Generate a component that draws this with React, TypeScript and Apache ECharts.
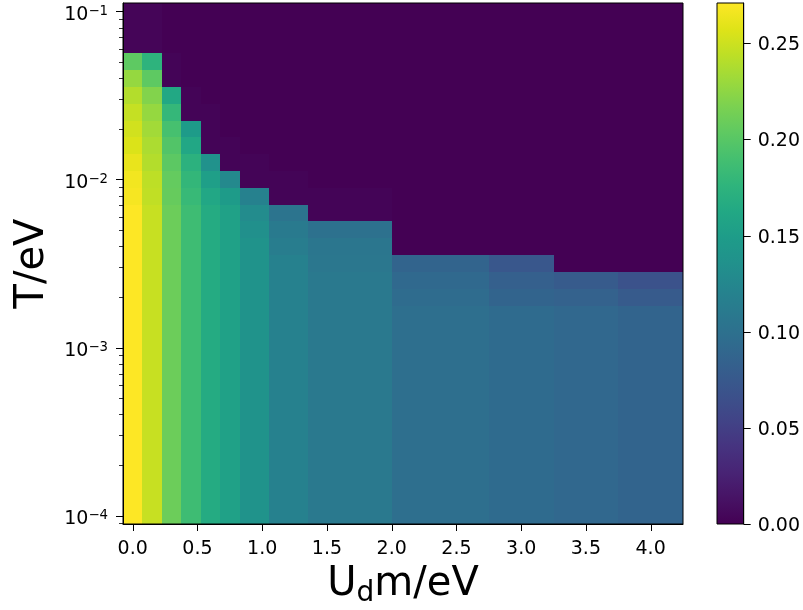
import { useEffect, useRef } from "react";
import * as echarts from "echarts";

// Bin centres of the mesh (pcolormesh-style, edges halfway between centres)
const U_DM = [0, 0.15, 0.3, 0.45, 0.6, 0.75, 0.9, 1.2, 1.5, 2.5, 3.0, 3.5, 4.0];
const T_EV = [
  1.0e-4, 1.26e-4, 1.58e-4, 2.0e-4, 2.51e-4, 3.16e-4, 3.98e-4, 5.01e-4, 6.31e-4, 7.94e-4,
  1.0e-3, 1.26e-3, 1.58e-3, 2.0e-3, 2.51e-3, 3.16e-3, 3.98e-3, 5.01e-3, 6.31e-3, 7.94e-3,
  1.0e-2, 1.26e-2, 1.58e-2, 2.0e-2, 2.51e-2, 3.16e-2, 3.98e-2, 5.01e-2, 6.31e-2, 7.94e-2,
  1.0e-1,
];

// One row per temperature (ascending T), one value per U_dm column
const Z = [
  [0.271, 0.248, 0.21, 0.186, 0.166, 0.155, 0.138, 0.119, 0.109, 0.098, 0.094, 0.091, 0.087],
  [0.271, 0.248, 0.21, 0.186, 0.166, 0.155, 0.138, 0.119, 0.109, 0.098, 0.094, 0.091, 0.087],
  [0.271, 0.248, 0.21, 0.186, 0.166, 0.155, 0.138, 0.119, 0.109, 0.098, 0.094, 0.091, 0.087],
  [0.271, 0.248, 0.21, 0.186, 0.166, 0.155, 0.138, 0.119, 0.109, 0.098, 0.094, 0.091, 0.087],
  [0.271, 0.248, 0.21, 0.186, 0.166, 0.155, 0.138, 0.119, 0.109, 0.098, 0.094, 0.091, 0.087],
  [0.271, 0.248, 0.21, 0.186, 0.166, 0.155, 0.138, 0.119, 0.109, 0.098, 0.094, 0.091, 0.087],
  [0.271, 0.248, 0.21, 0.186, 0.166, 0.155, 0.138, 0.119, 0.109, 0.098, 0.094, 0.091, 0.087],
  [0.271, 0.248, 0.21, 0.186, 0.166, 0.155, 0.138, 0.119, 0.109, 0.098, 0.094, 0.091, 0.087],
  [0.271, 0.248, 0.21, 0.186, 0.166, 0.155, 0.138, 0.119, 0.109, 0.098, 0.094, 0.091, 0.087],
  [0.271, 0.248, 0.21, 0.186, 0.166, 0.155, 0.138, 0.119, 0.109, 0.098, 0.094, 0.091, 0.087],
  [0.271, 0.248, 0.21, 0.186, 0.166, 0.155, 0.138, 0.119, 0.109, 0.098, 0.094, 0.091, 0.087],
  [0.271, 0.248, 0.21, 0.186, 0.166, 0.155, 0.138, 0.119, 0.109, 0.098, 0.094, 0.091, 0.087],
  [0.271, 0.248, 0.21, 0.186, 0.166, 0.155, 0.138, 0.119, 0.109, 0.098, 0.094, 0.091, 0.087],
  [0.271, 0.248, 0.21, 0.186, 0.166, 0.155, 0.138, 0.119, 0.109, 0.095, 0.087, 0.084, 0.077],
  [0.271, 0.248, 0.21, 0.186, 0.166, 0.155, 0.138, 0.119, 0.109, 0.092, 0.082, 0.077, 0.068],
  [0.271, 0.248, 0.21, 0.186, 0.166, 0.155, 0.138, 0.119, 0.107, 0.087, 0.073, 0, 0],
  [0.271, 0.248, 0.21, 0.186, 0.166, 0.155, 0.138, 0.114, 0.106, 0, 0, 0, 0],
  [0.271, 0.248, 0.21, 0.186, 0.166, 0.155, 0.134, 0.111, 0.1, 0, 0, 0, 0],
  [0.271, 0.248, 0.21, 0.186, 0.166, 0.155, 0.13, 0.104, 0.002, 0, 0, 0, 0],
  [0.268, 0.245, 0.207, 0.182, 0.161, 0.148, 0.119, 0.002, 0.002, 0, 0, 0, 0],
  [0.266, 0.244, 0.206, 0.179, 0.153, 0.127, 0.002, 0.002, 0, 0, 0, 0, 0],
  [0.262, 0.24, 0.202, 0.173, 0.137, 0.002, 0.002, 0, 0, 0, 0, 0, 0],
  [0.256, 0.237, 0.197, 0.161, 0.002, 0.002, 0, 0, 0, 0, 0, 0, 0],
  [0.252, 0.233, 0.191, 0.148, 0.002, 0, 0, 0, 0, 0, 0, 0, 0],
  [0.247, 0.228, 0.18, 0.002, 0.002, 0, 0, 0, 0, 0, 0, 0, 0],
  [0.24, 0.22, 0.163, 0.002, 0, 0, 0, 0, 0, 0, 0, 0, 0],
  [0.228, 0.203, 0.002, 0, 0, 0, 0, 0, 0, 0, 0, 0, 0],
  [0.203, 0.175, 0.002, 0, 0, 0, 0, 0, 0, 0, 0, 0, 0],
  [0.003, 0.003, 0, 0, 0, 0, 0, 0, 0, 0, 0, 0, 0],
  [0.003, 0.003, 0, 0, 0, 0, 0, 0, 0, 0, 0, 0, 0],
  [0.003, 0.003, 0, 0, 0, 0, 0, 0, 0, 0, 0, 0, 0],
];

const VMIN = 0;
const VMAX = 0.271;

const X_TICKS = [0, 0.5, 1.0, 1.5, 2.0, 2.5, 3.0, 3.5, 4.0];
const Y_MAJOR = [1e-4, 1e-3, 1e-2, 1e-1];
const CBAR_TICKS = [0, 0.05, 0.1, 0.15, 0.2, 0.25];

const VIRIDIS = [
  "#440154", "#471365", "#482475", "#463480", "#414487", "#3b528b", "#355f8d",
  "#2f6c8e", "#2a788e", "#25848e", "#21918c", "#1e9c89", "#22a884", "#2fb47c",
  "#44bf70", "#5ec962", "#7ad151", "#9bd93c", "#bddf26", "#dfe318", "#fde725",
];

const FONT = "DejaVu Sans";
const TICK_FS = 19;
const TITLE_FS = 40;
const MAJOR_LEN = 7;
const MINOR_LEN = 4;

// Cell edges halfway between neighbouring centres (geometric mean on a log axis)
function binEdges(c: number[], log: boolean): number[] {
  const t = log ? c.map((v) => Math.log10(v)) : c.slice();
  const e: number[] = [t[0] - (t[1] - t[0]) / 2];
  for (let i = 0; i < t.length - 1; i++) e.push((t[i] + t[i + 1]) / 2);
  e.push(t[t.length - 1] + (t[t.length - 1] - t[t.length - 2]) / 2);
  return log ? e.map((v) => Math.pow(10, v)) : e;
}

// Minor log ticks (2..9 x 10^k) that fall inside the axis range
function minorLogTicks(lo: number, hi: number): number[] {
  const out: number[] = [];
  for (let k = -6; k <= 1; k++) {
    for (let m = 2; m <= 9; m++) {
      const v = m * Math.pow(10, k);
      if (v >= lo && v <= hi) out.push(v);
    }
  }
  return out;
}

// Outward tick marks drawn through the axes' own scales
function tickSeries(xAxisIndex: number, yAxisIndex: number, points: number[][], dx: number, dy: number, width: number) {
  return {
    type: "custom",
    xAxisIndex,
    yAxisIndex,
    clip: false,
    silent: true,
    z: 20,
    encode: { x: 0, y: 1 },
    data: points,
    renderItem: (_p: any, api: any) => {
      const p = api.coord([api.value(0), api.value(1)]);
      const x = dx === 0 ? Math.round(p[0]) + 0.5 : p[0];
      const y = dy === 0 ? Math.round(p[1]) + 0.5 : p[1];
      return {
        type: "line",
        shape: { x1: x, y1: y, x2: x + dx, y2: y + dy },
        style: { stroke: "#000", lineWidth: width },
      };
    },
  };
}

export default function App() {
  const ref = useRef<HTMLDivElement>(null);

  useEffect(() => {
    const chart = echarts.init(ref.current!, null, { renderer: "svg" });
    const xe = binEdges(U_DM, false);
    const ye = binEdges(T_EV, true);
    const xMin = xe[0];
    const xMax = xe[xe.length - 1];
    const yMin = ye[0];
    const yMax = ye[ye.length - 1];

    const cells: number[][] = [];
    Z.forEach((row, i) => {
      row.forEach((v, j) => {
        cells.push([xe[j], xe[j + 1], ye[i], ye[i + 1], v]);
      });
    });

    const tickLabel = { color: "#000", fontFamily: FONT, fontSize: TICK_FS };
    const axisLine = { show: true, onZero: false, lineStyle: { color: "#000", width: 1 } };

    const option: any = {
      animation: false,
      textStyle: { fontFamily: FONT },
      grid: [
        { left: 123, top: 3, width: 560, height: 521, show: true, borderColor: "#000", borderWidth: 1, backgroundColor: "transparent", z: 5 },
        { left: 717, top: 3, width: 27, height: 521, show: true, borderColor: "#000", borderWidth: 1, backgroundColor: "transparent", z: 5 },
      ],
      visualMap: {
        show: false,
        type: "continuous",
        min: VMIN,
        max: VMAX,
        dimension: 4,
        seriesIndex: 0,
        inRange: { color: VIRIDIS },
      },
      xAxis: [
        {
          type: "value",
          gridIndex: 0,
          z: 10,
          min: xMin,
          max: xMax,
          axisLine,
          axisTick: { show: false },
          axisLabel: { ...tickLabel, margin: 13, customValues: X_TICKS, formatter: (v: number) => v.toFixed(1) },
          splitLine: { show: false },
          name: "{u|U}{d|d}{u|m/eV}",
          nameLocation: "middle",
          nameGap: 33,
          nameTextStyle: {
            color: "#000",
            rich: {
              u: { fontFamily: FONT, fontSize: TITLE_FS, lineHeight: 48, color: "#000" },
              d: { fontFamily: FONT, fontSize: 28, lineHeight: 28, verticalAlign: "bottom", color: "#000" },
            },
          },
        },
        { type: "value", gridIndex: 1, min: 0, max: 1, show: false, axisLine: { onZero: false } },
      ],
      yAxis: [
        {
          type: "log",
          logBase: 10,
          gridIndex: 0,
          z: 10,
          position: "left",
          min: yMin,
          max: yMax,
          axisLine,
          axisTick: { show: false },
          axisLabel: {
            margin: 15,
            customValues: Y_MAJOR,
            formatter: (v: number) => {
              const e = Math.round(Math.log10(v));
              return `{gap| }\n{b|10}{s|${e < 0 ? "\u2212" : ""}${Math.abs(e)}}`;
            },
            rich: {
              gap: { fontSize: 1, lineHeight: 3.4 },
              b: { fontFamily: FONT, fontSize: TICK_FS, lineHeight: 19, verticalAlign: "bottom", color: "#000" },
              s: { fontFamily: FONT, fontSize: 13.3, lineHeight: 13.3, padding: [0, 0, 8.4, 0], verticalAlign: "top", color: "#000" },
            },
          },
          splitLine: { show: false },
          name: "T/eV",
          nameLocation: "middle",
          nameRotate: 90,
          nameGap: 74,
          nameTextStyle: { color: "#000", fontFamily: FONT, fontSize: TITLE_FS },
        },
        {
          type: "value",
          gridIndex: 1,
          z: 10,
          position: "right",
          min: VMIN,
          max: VMAX,
          axisLine,
          axisTick: { show: false },
          axisLabel: { ...tickLabel, margin: 14, customValues: CBAR_TICKS, formatter: (v: number) => v.toFixed(2) },
          splitLine: { show: false },
        },
      ],
      series: [
        {
          type: "custom",
          xAxisIndex: 0,
          yAxisIndex: 0,
          clip: true,
          z: 1,
          encode: { x: [0, 1], y: [2, 3] },
          data: cells,
          renderItem: (_p: any, api: any) => {
            const a = api.coord([api.value(0), api.value(3)]);
            const b = api.coord([api.value(1), api.value(2)]);
            const x0 = Math.round(a[0]);
            const y0 = Math.round(a[1]);
            const x1 = Math.round(b[0]);
            const y1 = Math.round(b[1]);
            return {
              type: "rect",
              shape: { x: x0, y: y0, width: x1 - x0, height: y1 - y0 },
              style: { fill: api.visual("color") },
            };
          },
        },
        {
          type: "custom",
          xAxisIndex: 1,
          yAxisIndex: 1,
          clip: true,
          z: 1,
          encode: { x: 0, y: 1 },
          data: [[0, VMIN, 1, VMAX]],
          renderItem: (_p: any, api: any) => {
            const a = api.coord([api.value(0), api.value(3)]);
            const b = api.coord([api.value(2), api.value(1)]);
            return {
              type: "rect",
              shape: { x: a[0], y: a[1], width: b[0] - a[0], height: b[1] - a[1] },
              style: {
                fill: {
                  type: "linear",
                  x: 0,
                  y: 1,
                  x2: 0,
                  y2: 0,
                  colorStops: VIRIDIS.map((col, i) => ({ offset: i / (VIRIDIS.length - 1), color: col })),
                },
              },
            };
          },
        },
        tickSeries(0, 0, X_TICKS.map((v) => [v, yMin]), 0, MAJOR_LEN, 1),
        tickSeries(0, 0, Y_MAJOR.map((v) => [xMin, v]), -MAJOR_LEN, 0, 1),
        tickSeries(0, 0, minorLogTicks(yMin, yMax).map((v) => [xMin, v]), -MINOR_LEN, 0, 0.8),
        tickSeries(1, 1, CBAR_TICKS.map((v) => [1, v]), MAJOR_LEN, 0, 1),
      ],
    };

    chart.setOption(option);
    return () => chart.dispose();
  }, []);

  return <div ref={ref} style={{ position: "fixed", left: 0, top: 0, width: 803, height: 610 }} />;
}
